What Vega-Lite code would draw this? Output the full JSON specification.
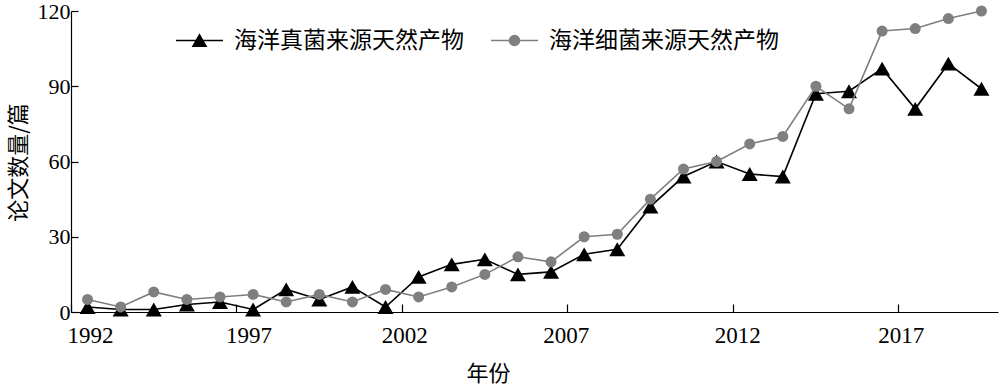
{
  "$schema": "https://vega.github.io/schema/vega-lite/v6.json",
  "width": 927,
  "height": 301,
  "autosize": {"type": "none"},
  "padding": {"left": 71, "top": 11, "right": 2, "bottom": 75},
  "background": "white",
  "config": {
    "view": {"stroke": null},
    "font": "Liberation Serif, Times New Roman, DejaVu Serif, Noto Sans CJK SC, serif",
    "axis": {
      "grid": false,
      "domainColor": "black",
      "domainWidth": 1.2,
      "tickColor": "black",
      "tickWidth": 1.2,
      "labelColor": "black",
      "titleColor": "black",
      "labelFont": "Liberation Serif, Times New Roman, DejaVu Serif, serif",
      "titleFont": "Noto Sans CJK SC",
      "titleFontWeight": "normal"
    },
    "legend": {
      "labelFont": "Noto Sans CJK SC",
      "labelColor": "black",
      "labelFontSize": 23,
      "labelLimit": 400,
      "labelOffset": 10,
      "padding": 0,
      "symbolSize": 2209,
      "symbolStrokeWidth": 1.6,
      "symbolOpacity": 1
    }
  },
  "data": {
    "values": [
      {"year": 1992, "series": "海洋真菌来源天然产物", "count": 2},
      {"year": 1993, "series": "海洋真菌来源天然产物", "count": 1},
      {"year": 1994, "series": "海洋真菌来源天然产物", "count": 1},
      {"year": 1995, "series": "海洋真菌来源天然产物", "count": 3},
      {"year": 1996, "series": "海洋真菌来源天然产物", "count": 4},
      {"year": 1997, "series": "海洋真菌来源天然产物", "count": 1},
      {"year": 1998, "series": "海洋真菌来源天然产物", "count": 9},
      {"year": 1999, "series": "海洋真菌来源天然产物", "count": 5},
      {"year": 2000, "series": "海洋真菌来源天然产物", "count": 10},
      {"year": 2001, "series": "海洋真菌来源天然产物", "count": 2},
      {"year": 2002, "series": "海洋真菌来源天然产物", "count": 14},
      {"year": 2003, "series": "海洋真菌来源天然产物", "count": 19},
      {"year": 2004, "series": "海洋真菌来源天然产物", "count": 21},
      {"year": 2005, "series": "海洋真菌来源天然产物", "count": 15},
      {"year": 2006, "series": "海洋真菌来源天然产物", "count": 16},
      {"year": 2007, "series": "海洋真菌来源天然产物", "count": 23},
      {"year": 2008, "series": "海洋真菌来源天然产物", "count": 25},
      {"year": 2009, "series": "海洋真菌来源天然产物", "count": 42},
      {"year": 2010, "series": "海洋真菌来源天然产物", "count": 54},
      {"year": 2011, "series": "海洋真菌来源天然产物", "count": 60},
      {"year": 2012, "series": "海洋真菌来源天然产物", "count": 55},
      {"year": 2013, "series": "海洋真菌来源天然产物", "count": 54},
      {"year": 2014, "series": "海洋真菌来源天然产物", "count": 87},
      {"year": 2015, "series": "海洋真菌来源天然产物", "count": 88},
      {"year": 2016, "series": "海洋真菌来源天然产物", "count": 97},
      {"year": 2017, "series": "海洋真菌来源天然产物", "count": 81},
      {"year": 2018, "series": "海洋真菌来源天然产物", "count": 99},
      {"year": 2019, "series": "海洋真菌来源天然产物", "count": 89},
      {"year": 1992, "series": "海洋细菌来源天然产物", "count": 5},
      {"year": 1993, "series": "海洋细菌来源天然产物", "count": 2},
      {"year": 1994, "series": "海洋细菌来源天然产物", "count": 8},
      {"year": 1995, "series": "海洋细菌来源天然产物", "count": 5},
      {"year": 1996, "series": "海洋细菌来源天然产物", "count": 6},
      {"year": 1997, "series": "海洋细菌来源天然产物", "count": 7},
      {"year": 1998, "series": "海洋细菌来源天然产物", "count": 4},
      {"year": 1999, "series": "海洋细菌来源天然产物", "count": 7},
      {"year": 2000, "series": "海洋细菌来源天然产物", "count": 4},
      {"year": 2001, "series": "海洋细菌来源天然产物", "count": 9},
      {"year": 2002, "series": "海洋细菌来源天然产物", "count": 6},
      {"year": 2003, "series": "海洋细菌来源天然产物", "count": 10},
      {"year": 2004, "series": "海洋细菌来源天然产物", "count": 15},
      {"year": 2005, "series": "海洋细菌来源天然产物", "count": 22},
      {"year": 2006, "series": "海洋细菌来源天然产物", "count": 20},
      {"year": 2007, "series": "海洋细菌来源天然产物", "count": 30},
      {"year": 2008, "series": "海洋细菌来源天然产物", "count": 31},
      {"year": 2009, "series": "海洋细菌来源天然产物", "count": 45},
      {"year": 2010, "series": "海洋细菌来源天然产物", "count": 57},
      {"year": 2011, "series": "海洋细菌来源天然产物", "count": 60},
      {"year": 2012, "series": "海洋细菌来源天然产物", "count": 67},
      {"year": 2013, "series": "海洋细菌来源天然产物", "count": 70},
      {"year": 2014, "series": "海洋细菌来源天然产物", "count": 90},
      {"year": 2015, "series": "海洋细菌来源天然产物", "count": 81},
      {"year": 2016, "series": "海洋细菌来源天然产物", "count": 112},
      {"year": 2017, "series": "海洋细菌来源天然产物", "count": 113},
      {"year": 2018, "series": "海洋细菌来源天然产物", "count": 117},
      {"year": 2019, "series": "海洋细菌来源天然产物", "count": 120}
    ]
  },
  "encoding": {
    "x": {
      "field": "year",
      "type": "ordinal",
      "scale": {"type": "band", "paddingInner": 0, "paddingOuter": 0},
      "axis": {
        "title": "年份",
        "values": [1992, 1997, 2002, 2007, 2012, 2017],
        "labelAngle": 0,
        "bandPosition": 0,
        "tickSize": -8,
        "labelFont": "Liberation Serif",
        "labelFontSize": 23,
        "labelBaseline": "alphabetic",
        "labelPadding": 38,
        "labelOffset": {"condition": [
          {"test": "datum.value == 1992", "value": 3},
          {"test": "datum.value == 1997", "value": -4},
          {"test": "datum.value == 2007", "value": -18},
          {"test": "datum.value == 2012", "value": -12}
        ], "value": -14},
        "titleFontSize": 22,
        "titleX": 417,
        "titleY": 61,
        "titleBaseline": "middle",
        "titleAlign": "center"
      }
    },
    "y": {
      "field": "count",
      "type": "quantitative",
      "scale": {"domain": [0, 120], "nice": false},
      "axis": {
        "title": "论文数量/篇",
        "values": [0, 30, 60, 90, 120],
        "tickSize": -7,
        "labelFont": "Liberation Serif",
        "labelFontSize": 22,
        "labelPadding": 8,
        "titleFontSize": 22,
        "titleX": -53,
        "titleY": 151,
        "titleAngle": -90,
        "titleBaseline": "middle",
        "titleAlign": "center"
      }
    }
  },
  "layer": [
    {
      "transform": [{"filter": {"field": "series", "equal": "海洋真菌来源天然产物"}}],
      "layer": [
        {
          "mark": {"type": "line", "strokeWidth": 1.6},
          "encoding": {
            "color": {
              "field": "series",
              "type": "nominal",
              "scale": {"range": ["#000000"]},
              "legend": {
                "title": null,
                "orient": "none",
                "direction": "horizontal",
                "legendX": 104,
                "legendY": 5,
                "symbolType": "M-1,0H1M0,-0.24L0.277,0.24L-0.277,0.24Z",
                "symbolFillColor": "#000000",
                "symbolStrokeColor": "#000000"
              }
            }
          }
        },
        {
          "mark": {"type": "point", "shape": "triangle-up", "size": 256, "filled": true, "color": "#000000", "opacity": 1}
        }
      ]
    },
    {
      "transform": [{"filter": {"field": "series", "equal": "海洋细菌来源天然产物"}}],
      "layer": [
        {
          "mark": {"type": "line", "strokeWidth": 1.6},
          "encoding": {
            "color": {
              "field": "series",
              "type": "nominal",
              "scale": {"range": ["#7f7f7f"]},
              "legend": {
                "title": null,
                "orient": "none",
                "direction": "horizontal",
                "legendX": 419,
                "legendY": 5,
                "symbolType": "M-1,0H1M0.213,0A0.213,0.213,0,1,1,-0.213,0A0.213,0.213,0,1,1,0.213,0Z",
                "symbolFillColor": "#7f7f7f",
                "symbolStrokeColor": "#7f7f7f"
              }
            }
          }
        },
        {
          "mark": {"type": "point", "shape": "circle", "size": 121, "filled": true, "color": "#7f7f7f", "opacity": 1}
        }
      ]
    }
  ],
  "resolve": {"scale": {"color": "independent"}, "legend": {"color": "independent"}}
}
